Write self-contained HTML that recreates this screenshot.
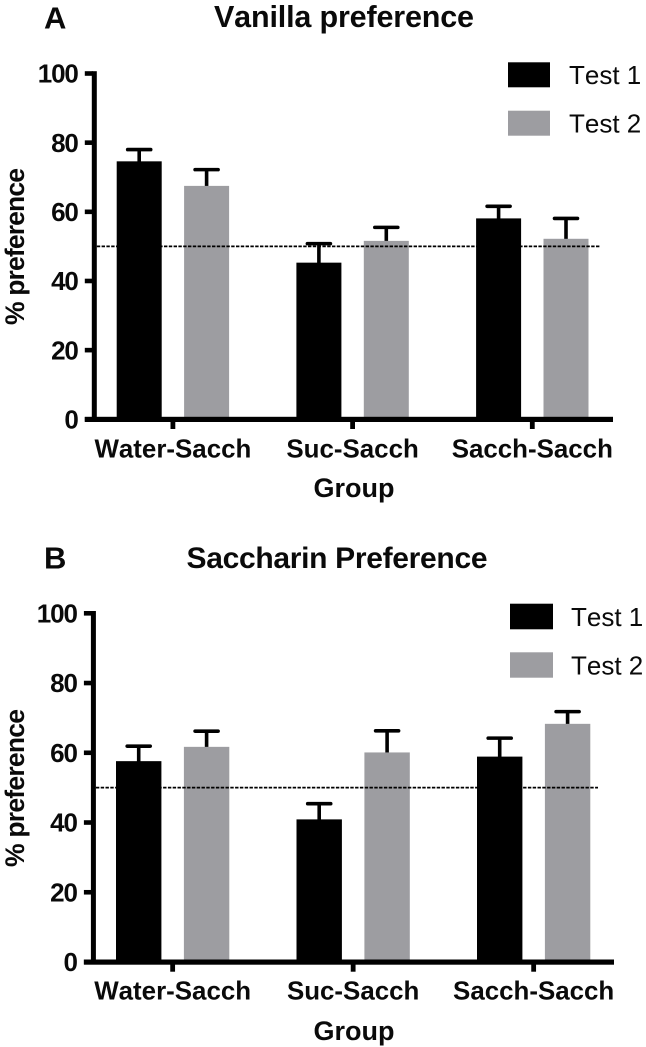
<!DOCTYPE html>
<html lang="en">
<head>
<meta charset="utf-8">
<title>Vanilla and Saccharin preference</title>
<style>
html,body{margin:0;padding:0;background:#fff;}
svg{display:block;font-family:"Liberation Sans",Arial,sans-serif;font-kerning:none;}
text{fill:#0a0a0a;}
</style>
</head>
<body>
<svg id="figure" width="646" height="1047" viewBox="0 0 646 1047" xmlns="http://www.w3.org/2000/svg">
  <g id="panel-a">
    <text x="44" y="28.5" font-size="31" font-weight="700">A</text>
    <text x="214" y="27" font-size="30.5" font-weight="700" textLength="260" lengthAdjust="spacing">Vanilla preference</text>
    <text transform="translate(24 325) rotate(-90)" font-size="26.5" font-weight="700" textLength="157" lengthAdjust="spacing">% preference</text>
    <text x="354" y="497" font-size="27" font-weight="700" text-anchor="middle">Group</text>
    <rect x="508" y="62.3" width="42" height="25" fill="#000"/>
    <text x="569" y="84" font-size="26">Test 1</text>
    <rect x="508" y="110.7" width="42" height="25" fill="#9d9da1"/>
    <text x="569" y="132.5" font-size="26">Test 2</text>
  </g>
  <g id="panel-b">
    <text x="44" y="568.5" font-size="31" font-weight="700">B</text>
    <text x="186.5" y="568" font-size="30" font-weight="700" textLength="301" lengthAdjust="spacing">Saccharin Preference</text>
    <text transform="translate(24 867) rotate(-90)" font-size="26.5" font-weight="700" textLength="158" lengthAdjust="spacing">% preference</text>
    <text x="354" y="1040" font-size="27" font-weight="700" text-anchor="middle">Group</text>
    <rect x="510" y="603.7" width="43" height="25.6" fill="#000"/>
    <text x="571" y="626" font-size="26">Test 1</text>
    <rect x="510" y="652.3" width="43" height="25.4" fill="#9d9da1"/>
    <text x="571" y="674.3" font-size="26">Test 2</text>
  </g>
</svg>
<script>
// Chart data
const groups = ["Water-Sacch", "Suc-Sacch", "Sacch-Sacch"];
const yTicks = [0, 20, 40, 60, 80, 100];
const referenceLevel = 50;
const vanillaTest1 = [74.6, 45.3, 58.1];
const vanillaTest1Err = [3.4, 5.5, 3.5];
const vanillaTest2 = [67.5, 51.6, 52.2];
const vanillaTest2Err = [4.7, 3.9, 5.9];
const saccharinTest1 = [57.6, 40.9, 58.9];
const saccharinTest1Err = [4.3, 4.5, 5.3];
const saccharinTest2 = [61.7, 60.1, 68.3];
const saccharinTest2Err = [4.5, 6.2, 3.5];

const SVG_NS = "http://www.w3.org/2000/svg";
const GRAY = "#9d9da1";

function make(parent, tag, props) {
  const el = document.createElementNS(SVG_NS, tag);
  for (const key in props) el.setAttribute(key, props[key]);
  parent.appendChild(el);
  return el;
}

function drawChart(parent, layout, series1, err1, series2, err2) {
  const yScale = v => layout.y0 - v * layout.pxPerUnit;
  const groupLeft = g => layout.firstBar + g * layout.groupStep;
  const barLeft = (g, s) => groupLeft(g) + s * (layout.barWidth + layout.barGap);
  const groupCenter = g => groupLeft(g) + layout.barWidth + layout.barGap / 2;

  const allSeries = [
    {values: series1, errors: err1, color: "#000", key: "test-1"},
    {values: series2, errors: err2, color: GRAY, key: "test-2"}
  ];

  allSeries.forEach((series, s) => {
    series.values.forEach((value, g) => {
      const x = barLeft(g, s);
      const cx = x + layout.barWidth / 2;
      const top = yScale(value);
      const errTop = yScale(value + series.errors[g]);

      const stem = make(parent, "line", {x1: cx, x2: cx, y1: top + 1, y2: errTop, stroke: "#000", "stroke-width": 3.6});
      
      

      const cap = make(parent, "line", {x1: cx - 11.5, x2: cx + 11.5, y1: errTop, y2: errTop, stroke: "#000", "stroke-width": 3.6, "stroke-linecap": "round"});
      
      

      const bar = make(parent, "rect", {x: x, y: top, width: layout.barWidth, height: layout.y0 - top, fill: series.color});
      
      
    });
  });

  // Y axis
  const yAxis = make(parent, "rect", {x: layout.axisX - 2.5, y: yScale(100) - 2.3, width: 5, height: layout.y0 - yScale(100) + 4.8, fill: "#000"});
  
  

  yTicks.forEach(tick => {
    const y = yScale(tick);
    const mark = make(parent, "rect", {x: layout.axisX - 9.5, y: y - 2.3, width: 8, height: 4.6, fill: "#000"});
    
    
    const label = make(parent, "text", {x: layout.axisX - 16.5, y: y + 9.2, "font-size": 26, "font-weight": 700, "text-anchor": "end", "letter-spacing": -1.1});
    
    
    label.textContent = tick;
  });

  // X axis
  const xAxis = make(parent, "rect", {x: layout.axisX - 9.5, y: layout.y0 - 2.5, width: layout.axisEnd - layout.axisX + 9.5, height: 5.2, fill: "#000"});
  
  

  groups.forEach((group, g) => {
    const cx = groupCenter(g);
    const mark = make(parent, "rect", {x: cx - 2.4, y: layout.y0, width: 4.8, height: 9.7, fill: "#000"});
    
    
    const label = make(parent, "text", {x: cx, y: layout.labelY, "font-size": 25.9, "font-weight": 700, "text-anchor": "middle"});
    
    
    label.textContent = group;
  });

  // Reference line
  const ref = make(parent, "line", {x1: layout.axisX + 2.5, x2: layout.refEnd, y1: yScale(referenceLevel), y2: yScale(referenceLevel), stroke: "#000", "stroke-width": 1.8, "stroke-dasharray": "3.4 1.4"});
  
  
}

drawChart(document.getElementById("panel-a"),
  {y0: 419.3, pxPerUnit: 3.458, axisX: 94.3, axisEnd: 613, refEnd: 600, firstBar: 116.7, groupStep: 179.7, barWidth: 45, barGap: 22.4, labelY: 457.3},
  vanillaTest1, vanillaTest1Err, vanillaTest2, vanillaTest2Err);

drawChart(document.getElementById("panel-b"),
  {y0: 962, pxPerUnit: 3.487, axisX: 93.4, axisEnd: 614, refEnd: 598, firstBar: 116, groupStep: 180.5, barWidth: 45.4, barGap: 22.5, labelY: 999.3},
  saccharinTest1, saccharinTest1Err, saccharinTest2, saccharinTest2Err);
</script>
</body>
</html>
